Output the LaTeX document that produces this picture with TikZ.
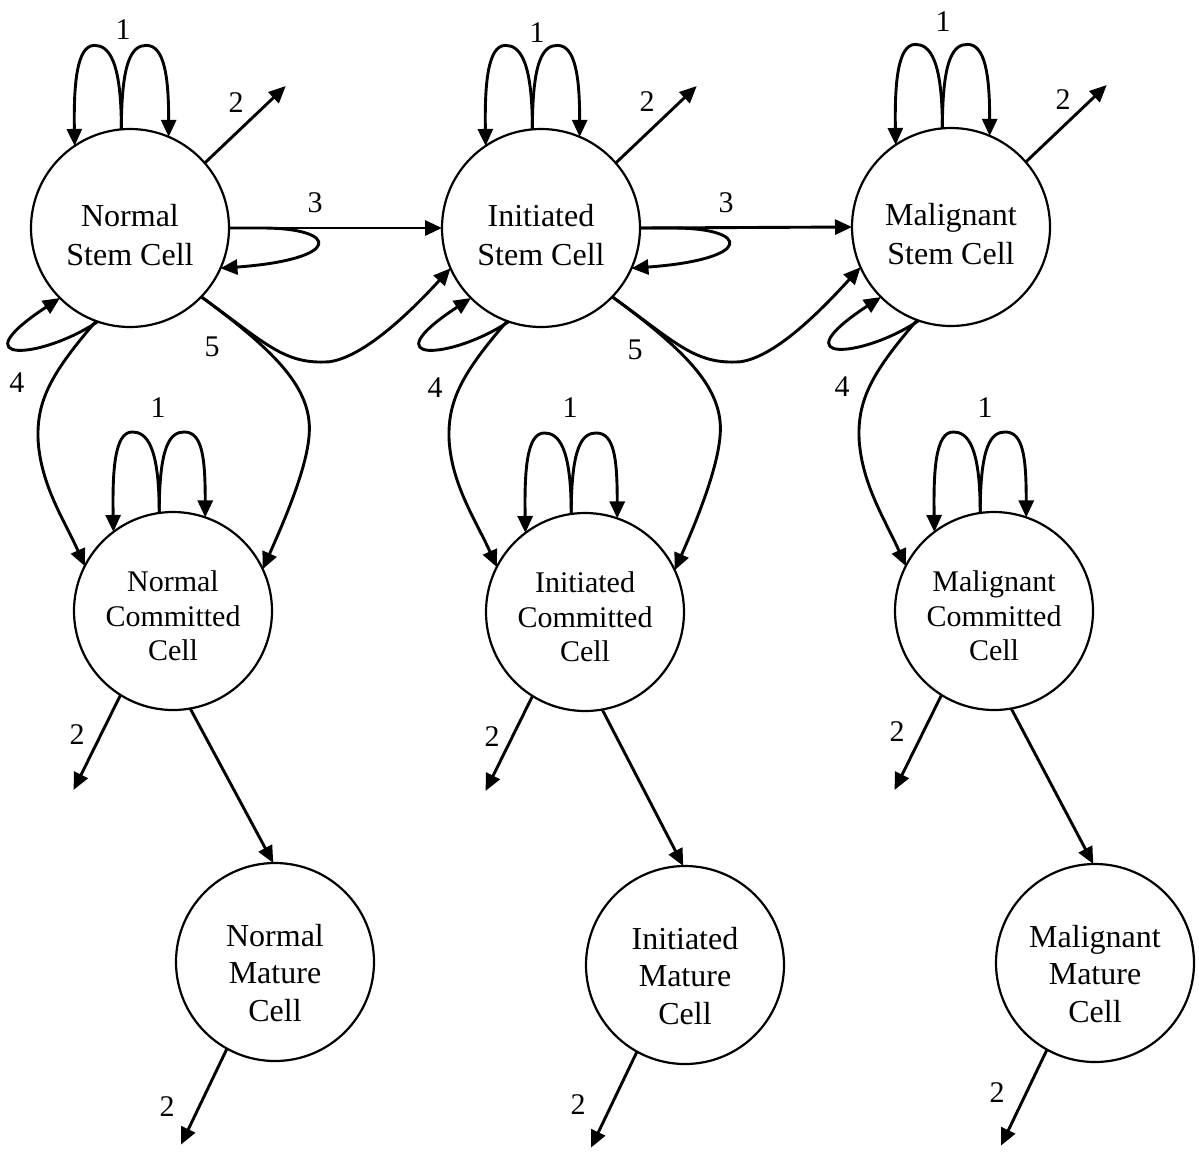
\documentclass[tikz,border=0pt]{standalone}
\usepackage{fontspec}
\setmainfont{Liberation Serif}
\usetikzlibrary{arrows.meta}
\begin{document}
\begin{tikzpicture}[x=0.5pt,y=-0.5pt,
  cell/.style={circle,draw,line width=1.1pt,minimum size=99pt,inner sep=0pt,outer sep=0pt},
  arr/.style={line width=1.45pt,-{Triangle[length=8.5pt,width=7.5pt]}},
  stemtxt/.style={align=center,font=\fontsize{16}{19.5}\selectfont,inner sep=0pt},
  comtxt/.style={align=center,font=\fontsize{15}{17.25}\selectfont,inner sep=0pt},
  mattxt/.style={align=center,font=\fontsize{16}{18.75}\selectfont,inner sep=0pt},
  num/.style={font=\fontsize{15}{18}\selectfont,inner sep=0pt}]
\useasboundingbox (0,0) rectangle (1199,1152);

% cells
\node[cell] (s1) at (130,228) {};
\node[cell] (s2) at (541,228) {};
\node[cell] (s3) at (951,227) {};
\node[cell] (c1) at (173,611) {};
\node[cell] (c2) at (585,612) {};
\node[cell] (c3) at (994,611) {};
\node[cell] (m1) at (275,962) {};
\node[cell] (m2) at (685,965) {};
\node[cell] (m3) at (1095,963) {};

% texts
\node[stemtxt] (ts1) at (130,235) {Normal\\Stem Cell};
\node[stemtxt] (ts2) at (541,235) {Initiated\\Stem Cell};
\node[stemtxt] (ts3) at (951,234) {Malignant\\Stem Cell};
\node[comtxt] (tc1) at (173,616) {Normal\\Committed\\Cell};
\node[comtxt] (tc2) at (585,617) {Initiated\\Committed\\Cell};
\node[comtxt] (tc3) at (994,616) {Malignant\\Committed\\Cell};
\node[mattxt] (tm1) at (275,973) {Normal\\Mature\\Cell};
\node[mattxt] (tm2) at (685,976) {Initiated\\Mature\\Cell};
\node[mattxt] (tm3) at (1095,974) {Malignant\\Mature\\Cell};

% common connectors
\foreach \i in {1,2,3} {
  \draw[arr] (s\i.95) .. controls +(0,-70) and +(14,0) .. ++(-27,-84) .. controls +(-18,0) and +(-1,-60) .. (s\i.124);
  \draw[arr] (s\i.95) .. controls +(0,-70) and +(-14,0) .. ++(25,-84) .. controls +(18,0) and +(0,-60) .. (s\i.67);
  \draw[arr] (s\i.41) -- ++(81,-77);
  \draw[arr] (s\i.251) .. controls +(-57,38) and +(-102,67) .. (s\i.225);
  \draw[arr] (s\i.250) .. controls +(-45,52) and +(-2,-40) .. ++(-58,120) .. controls +(3,45) and +(-20,-45) .. (c\i.153);
  \draw[arr] (c\i.98) .. controls +(0,-68) and +(14,0) .. ++(-27,-81) .. controls +(-18,0) and +(-1,-60) .. (c\i.127);
  \draw[arr] (c\i.98) .. controls +(0,-68) and +(-14,0) .. ++(25,-81) .. controls +(18,0) and +(0,-60) .. (c\i.71);
  \draw[arr] (c\i.238) -- ++(-47,95);
  \draw[arr] (c\i.280) -- (m\i.91);
  \draw[arr] (m\i.241) -- ++(-46,96);
}

% transitions to the next column
\foreach \i/\j in {1/2,2/3} {
  \draw[arr] (s\i.east) -- (s\j.west);
  \draw[arr] (s\i.east) -- ++(33,0) .. controls +(78,0) and +(123,-9) .. (s\i.336);
  \draw[arr] (s\i.316) .. controls +(65,47) and +(-45,3) .. ++(128,65) .. controls +(37,-5) and +(-35,38) .. (s\j.204);
  \draw[arr] (s\i.316) .. controls +(75,55) and +(3,-45) .. ++(108,137) .. controls +(-2,35) and +(20,-45) .. (c\i.25);
}

% labels
\node[num] (a1) at (123,30) {1};
\node[num] (a2) at (537,33) {1};
\node[num] (a3) at (943,22) {1};
\node[num] (b1) at (158,408) {1};
\node[num] (b2) at (570,408) {1};
\node[num] (b3) at (985,408) {1};
\node[num] (d1) at (236,103) {2};
\node[num] (d2) at (647,102) {2};
\node[num] (d3) at (1063,100) {2};
\node[num] (e1) at (315,203) {3};
\node[num] (e2) at (726,203) {3};
\node[num] (f1) at (17,383) {4};
\node[num] (f2) at (435,388) {4};
\node[num] (f3) at (842,387) {4};
\node[num] (g1) at (212,347) {5};
\node[num] (g2) at (635,350) {5};
\node[num] (h1) at (77,735) {2};
\node[num] (h2) at (492,737) {2};
\node[num] (h3) at (897,732) {2};
\node[num] (k1) at (167,1107) {2};
\node[num] (k2) at (578,1105) {2};
\node[num] (k3) at (997,1093) {2};
\end{tikzpicture}
\end{document}
